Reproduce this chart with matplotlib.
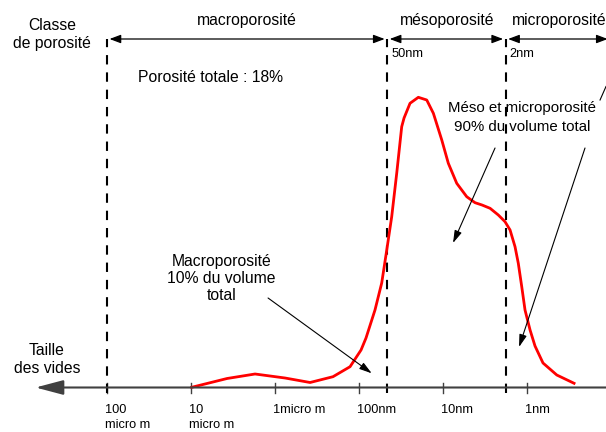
import matplotlib
matplotlib.use("Agg")
import matplotlib.pyplot as plt

plt.rcParams['font.family'] = ['Liberation Sans', 'DejaVu Sans']

# x axis: -log10(pore size in m), size decreases to the right
tick_pos = [4, 5, 6, 7, 8, 9]
tick_labels = ["100\nmicro m", "10\nmicro m", "1micro m", "100nm", "10nm", "1nm"]

# class boundaries as drawn (100 micro m, ~50nm, ~2nm)
limit_pos = [4.0, 7.335, 8.745]
limit_labels = ["", "50nm", "2nm"]
classes = ["macroporosité", "mésoporosité", "microporosité"]

# pore volume distribution (arbitrary units)
curve_x = [5.008, 5.429, 5.762, 6.119, 6.417, 6.690, 6.893, 7.024, 7.083, 7.190,
           7.270, 7.330, 7.389, 7.449, 7.508, 7.536, 7.607, 7.706, 7.806, 7.885,
           7.985, 8.063, 8.163, 8.282, 8.381, 8.464, 8.560, 8.658, 8.738, 8.798,
           8.857, 8.896, 8.937, 8.976, 9.036, 9.095, 9.190, 9.354, 9.560]
curve_y = [0.2, 9, 13.5, 9.5, 5, 10.8, 20.8, 37.5, 49.5, 77.5,
           104.5, 137.5, 170.8, 214.5, 260.8, 269.5, 284.2, 290.2, 287.5, 274.2,
           247.5, 224.2, 204.2, 190.8, 184.8, 182.5, 179.2, 172.5, 165.8, 157.5,
           140.8, 124.2, 100.8, 77.5, 57.5, 41.5, 24.5, 12.5, 4.2]

XMIN, XMAX = 2.726, 9.94

fig = plt.figure(figsize=(6.06, 4.32), dpi=100)
ax = fig.add_axes([0, 0, 1, 1])
ax.set_xlim(XMIN, XMAX)
ax.set_ylim(-44.5, 387.5)
ax.axis('off')

axis_col = '#404040'
FS = 11.3

# main axis, arrow pointing left (towards large pores)
ax.annotate("", xy=(3.15, 0), xytext=(XMAX, 0),
            arrowprops=dict(arrowstyle='-|>,head_length=1.7,head_width=0.45',
                            color=axis_col, lw=1.5, mutation_scale=10,
                            shrinkA=0, shrinkB=0))
for t, lab in zip(tick_pos, tick_labels):
    ax.plot([t, t], [-5.5, 4.5], color=axis_col, lw=1)
    for i, line in enumerate(lab.split("\n")):
        ax.text(t - 0.03, -22.5 - 15 * i, line, fontsize=9.2,
                ha='left', va='center')

# class boundaries and class arrows
for x, lab in zip(limit_pos, limit_labels):
    ax.plot([x, x], [-5, 348.5], color='black', lw=1.5, linestyle=(0, (4.5, 3.8)))
    if lab:
        ax.text(x + 0.05, 333.5, lab, fontsize=9.2, ha='left', va='center')
ends = limit_pos + [XMAX + 0.05]
for i in range(3):
    ax.annotate("", xy=(ends[i], 348.5), xytext=(ends[i + 1], 348.5),
                arrowprops=dict(arrowstyle='<|-|>,head_length=0.45,head_width=0.17',
                                color='black', lw=0.9, mutation_scale=15,
                                shrinkA=1.8, shrinkB=1.8))
ax.text(5.667, 366.5, classes[0], fontsize=FS, ha='center', va='center')
ax.text(8.044, 366.5, classes[1], fontsize=FS, ha='center', va='center')
ax.text(8.817, 366.5, classes[2], fontsize=FS, ha='left', va='center')

ax.text(3.345, 353, "Classe\nde porosité", fontsize=FS, ha='center', va='center',
        linespacing=1.25)
ax.text(3.286, 28, "Taille\ndes vides", fontsize=FS, ha='center', va='center',
        linespacing=1.25)
ax.text(4.369, 309.5, "Porosité totale : 18%", fontsize=FS, ha='left', va='center')

# distribution curve
ax.plot(curve_x, curve_y, color='red', lw=2, solid_joinstyle='round')

# annotations
head = '-|>,head_length=0.5,head_width=0.15'
ax.text(8.94, 270, "Méso et microporosité\n90% du volume total", fontsize=10.8,
        ha='center', va='center', linespacing=1.4)
ax.annotate("", xy=(8.119, 144.5), xytext=(8.619, 239.5),
            arrowprops=dict(arrowstyle=head, color='black', lw=0.8,
                            mutation_scale=15, shrinkA=0, shrinkB=0))
ax.annotate("", xy=(8.905, 40.5), xytext=(9.690, 239.5),
            arrowprops=dict(arrowstyle=head, color='black', lw=0.8,
                            mutation_scale=15, shrinkA=0, shrinkB=0))
ax.plot([9.869, 9.94], [287.5, 301], color='black', lw=0.8)

ax.text(5.365, 109, "Macroporosité\n10% du volume\ntotal", fontsize=FS,
        ha='center', va='center', linespacing=1.2)
ax.annotate("", xy=(7.151, 14.2), xytext=(5.917, 89.5),
            arrowprops=dict(arrowstyle=head, color='black', lw=0.8,
                            mutation_scale=15, shrinkA=0, shrinkB=0))

fig.savefig("out.png", dpi=100)
